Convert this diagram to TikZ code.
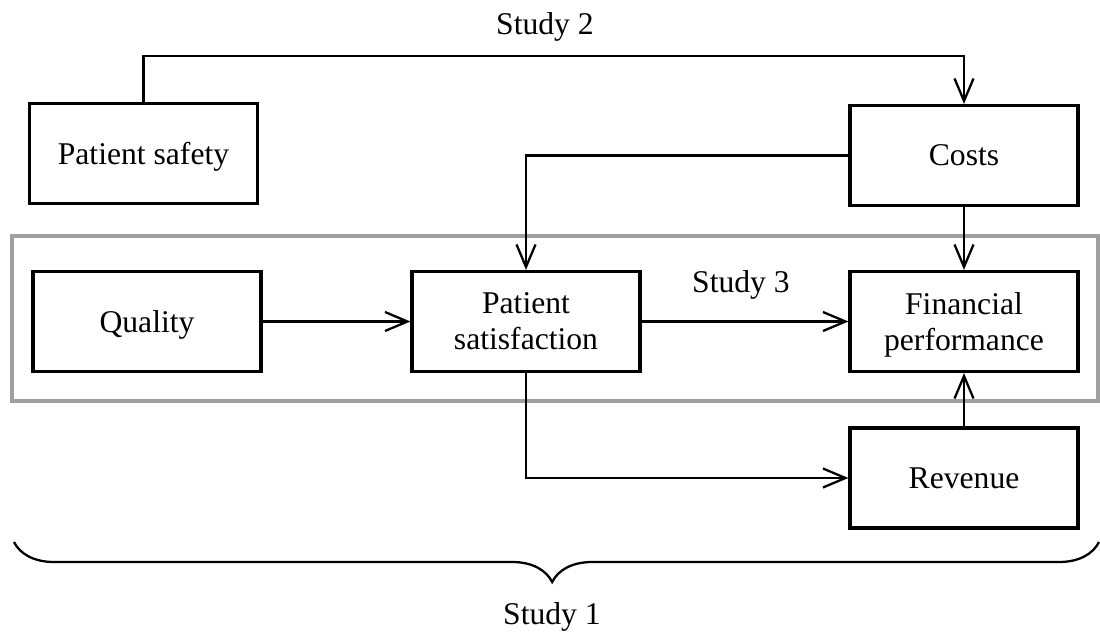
\documentclass[tikz,border=0pt]{standalone}
\usepackage{fontspec}
\setmainfont{Liberation Serif}
\usetikzlibrary{arrows.meta,decorations.pathreplacing}

\begin{document}
\begin{tikzpicture}[
    font=\fontsize{18}{20.5}\selectfont,
    box/.style={draw, line width=1.8pt, minimum width=4.56cm, minimum height=2cm, align=center, text depth=0pt},
    conn/.style={line width=1.3pt, -{Straight Barb[length=0.45cm, width=0.38cm, line width=1.3pt]}}
  ]
  \useasboundingbox (0,0) rectangle (22,-12.7);

  \draw[line width=1.8pt, gray!75] (0.24,-4.72) rectangle (21.96,-8.02);

  \node[box] (safety) at (2.87,-3.07) {Patient safety};
  \node[box] (costs) at (19.28,-3.11) {Costs};
  \node[box] (quality) at (2.94,-6.43) {Quality};
  \node[box] (satisf) at (10.52,-6.43) {Patient\\satisfaction};
  \node[box] (finperf) at (19.28,-6.43) {Financial\\performance};
  \node[box] (revenue) at (19.28,-9.56) {Revenue};

  \node (study2) at (10.9,-0.54) {Study 2};
  \node (study3) at (14.82,-5.7) {Study 3};
  \node (study1) at (11.04,-12.34) {Study 1};

  \draw[conn] (safety.north) -- ++(0,0.92) -| (costs.north);
  \draw[conn] (costs.west) -| (satisf.north);
  \draw[conn] (costs) -- (finperf);
  \draw[conn] (quality) -- (satisf);
  \draw[conn] (satisf) -- (finperf);
  \draw[conn] (satisf.south) |- (revenue.west);
  \draw[conn] (revenue) -- (finperf);

  \draw[line width=1.3pt, decorate, decoration={brace, mirror, amplitude=0.8cm, aspect=0.496}]
    (0.28,-10.84) -- (21.98,-10.84);
\end{tikzpicture}
\end{document}
